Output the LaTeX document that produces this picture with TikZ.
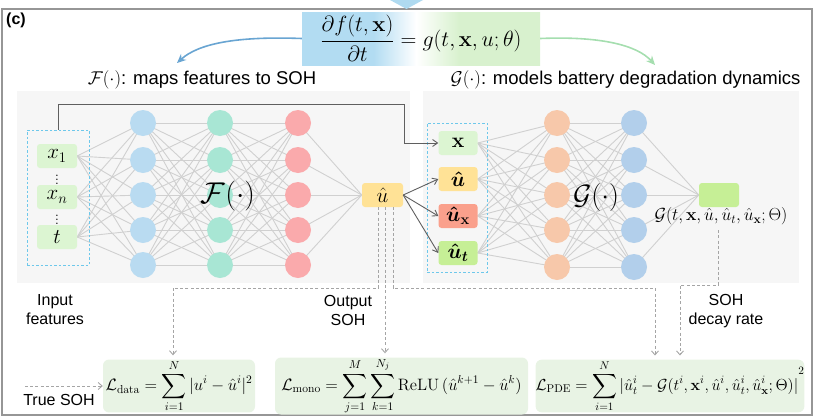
\RequirePackage{fix-cm}
\documentclass[tikz,border=0pt]{standalone}
\usepackage{amsmath}
\usepackage[no-math]{fontspec}
\newfontfamily\arialf{Liberation Sans}
\usetikzlibrary{arrows.meta,calc}
\definecolor{framegray}{RGB}{150,150,150}
\definecolor{panelgray}{RGB}{246,246,246}
\definecolor{edgegray}{RGB}{208,208,208}
\definecolor{dashgray}{RGB}{165,165,165}
\definecolor{arrgray}{RGB}{95,95,95}
\definecolor{tricolor}{RGB}{175,218,240}
\definecolor{eqblue}{RGB}{178,220,242}
\definecolor{eqgreen}{RGB}{216,241,206}
\definecolor{arrblue}{RGB}{105,165,210}
\definecolor{arrgreen}{RGB}{165,222,175}
\definecolor{nblue}{RGB}{185,219,241}
\definecolor{nteal}{RGB}{168,230,212}
\definecolor{npink}{RGB}{250,170,172}
\definecolor{norange}{RGB}{247,200,170}
\definecolor{nblueb}{RGB}{178,207,235}
\definecolor{ingreen}{RGB}{220,245,210}
\definecolor{nyellow}{RGB}{255,226,150}
\definecolor{nsalmon}{RGB}{250,160,140}
\definecolor{ngreen}{RGB}{198,239,150}
\definecolor{lossfill}{RGB}{232,243,228}
\definecolor{boxblue}{RGB}{110,200,235}
\pgfdeclarehorizontalshading{eqshade}{100bp}{color(0bp)=(eqblue); color(25bp)=(eqblue); color(40bp)=(eqblue); color(49bp)=(white); color(58bp)=(eqgreen); color(75bp)=(eqgreen); color(100bp)=(eqgreen)}
\pgfdeclarelayer{bg}
\pgfdeclarelayer{edges}
\pgfsetlayers{bg,edges,main}
\begin{document}
\begin{tikzpicture}[x=1pt,y=-1pt,
  neuron/.style={circle,minimum size=26pt,inner sep=0pt,draw=none},
  feat/.style={rounded corners=3pt,minimum width=40pt,minimum height=24pt,inner sep=0pt,font=\fontsize{21}{23}\selectfont},
  edge/.style={draw=edgegray,line width=0.9pt},
  dline/.style={draw=dashgray,dashed,dash pattern=on 3pt off 2.2pt,line width=0.9pt,-{Straight Barb[length=4pt,width=7pt]}},
  feedarrow/.style={draw=arrgray,line width=0.9pt,-{Straight Barb[length=5pt,width=7pt]}},
  dashbox/.style={draw=boxblue,dashed,dash pattern=on 2.5pt off 2pt,line width=0.8pt},
  lossbox/.style={fill=lossfill,rounded corners=6pt,minimum height=48pt,inner sep=0pt,font=\fontsize{16.5}{19}\selectfont},
  lbl/.style={font=\arialf\fontsize{16}{19}\selectfont,align=center},
  ttl/.style={font=\arialf\fontsize{18.5}{21}\selectfont}
]
\useasboundingbox (0,0) rectangle (816,418);
% frame and top arrow
\draw[framegray,line width=1.2pt] (2,9) rectangle (812,415);
\fill[tricolor] (390,0) -- (423,0) -- (406.5,9) -- cycle;
\node[font=\arialf\bfseries\fontsize{16}{18}\selectfont] (clabel) at (16,20) {(c)};
% equation
\node[shading=eqshade,minimum width=238pt,minimum height=53pt,inner sep=0pt,font=\fontsize{22}{25}\selectfont] (eq) at (421,38.5)
  {$\displaystyle\frac{\partial f(t,\mathbf{x})}{\partial t}=g(t,\mathbf{x},u;\theta)$};
\coordinate (fa) at (177,63);
\coordinate (ga) at (655,65);
\draw[arrblue,line width=1.6pt,-{Stealth[length=9pt,width=8pt]}] (eq.west) .. controls (235,36) and (198,44) .. (fa);
\draw[arrgreen,line width=1.6pt,-{Stealth[length=9pt,width=8pt]}] (eq.east) .. controls (600,36) and (637,45) .. (ga);
\node[ttl] (ftitle) at (202,80) {$\mathcal{F}(\cdot)$: maps features to SOH};
\node[ttl,anchor=east] (gtitle) at (804,80) {$\mathcal{G}(\cdot)$: models battery degradation dynamics};
% panels
\begin{pgfonlayer}{bg}
\fill[panelgray] (17,91) rectangle (410,283);
\fill[panelgray] (423,91) rectangle (799,283);
\end{pgfonlayer}
% left network
\node[dashbox,minimum width=62pt,minimum height=135pt,inner sep=0pt] (inbox) at (58,197.5) {};
\node[feat,fill=ingreen] (in1) at (57,156) {$x_1$};
\node[feat,fill=ingreen] (in2) at (57,197) {$x_n$};
\node[feat,fill=ingreen] (in3) at (57,237) {$t$};
\node[font=\fontsize{17}{19}\selectfont] (dots1) at (57,177) {$\vdots$};
\node[font=\fontsize{17}{19}\selectfont] (dots2) at (57,217) {$\vdots$};
\foreach \j/\yy in {1/123,2/160,3/195,4/230,5/265}{
  \node[neuron,fill=nblue] (a\j) at (143,\yy) {};
  \node[neuron,fill=nteal] (b\j) at (220,\yy) {};
  \node[neuron,fill=npink] (c\j) at (298,\yy) {};
}
\node[feat,fill=nyellow,minimum width=41pt] (uh) at (382.5,195) {$\hat{u}$};
\node[font=\fontsize{30}{33}\selectfont] (flabel) at (228,196) {$\mathcal{F}(\cdot)$};
% right network
\node[dashbox,minimum width=60pt,minimum height=149pt,inner sep=0pt] (rbox) at (457,197.5) {};
\node[feat,fill=ingreen,minimum width=39pt] (rx) at (458,143) {$\mathbf{x}$};
\node[feat,fill=nyellow,minimum width=39pt] (ru) at (458,179) {$\boldsymbol{\hat{u}}$};
\node[feat,fill=nsalmon,minimum width=39pt] (rux) at (458,216) {$\boldsymbol{\hat{u}}_{\mathbf{x}}$};
\node[feat,fill=ngreen,minimum width=39pt] (rut) at (458,253) {$\boldsymbol{\hat{u}}_{\boldsymbol{t}}$};
\foreach \j/\yy in {1/123,2/160,3/195,4/230,5/267}{
  \node[neuron,fill=norange] (d\j) at (557,\yy) {};
  \node[neuron,fill=nblueb] (e\j) at (634,\yy) {};
}
\node[fill=ngreen,rounded corners=3pt,minimum width=40pt,minimum height=24pt,inner sep=0pt] (gout) at (719,195) {};
\node[font=\fontsize{28}{31}\selectfont] (glabel2) at (596,197) {$\mathcal{G}(\cdot)$};
\node[font=\fontsize{17.5}{20}\selectfont] (glabel) at (721,216) {$\mathcal{G}(t,\mathbf{x},\hat{u},\hat{u}_t,\hat{u}_{\mathbf{x}};\Theta)$};
% edges
\begin{pgfonlayer}{edges}
\foreach \i in {1,2,3}{\foreach \j in {1,...,5}{\draw[edge] (in\i.east) -- (a\j.center);}}
\foreach \i in {1,...,5}{\foreach \j in {1,...,5}{
  \draw[edge] (a\i.center) -- (b\j.center);
  \draw[edge] (b\i.center) -- (c\j.center);
  \draw[edge] (d\i.center) -- (e\j.center);}}
\foreach \i in {1,...,5}{\draw[edge] (c\i.center) -- (uh.west);}
\foreach \n in {rx,ru,rux,rut}{\foreach \j in {1,...,5}{\draw[edge] (\n.east) -- (d\j.center);}}
\foreach \i in {1,...,5}{\draw[edge] (e\i.center) -- (gout.west);}
\end{pgfonlayer}
% feedback and u-hat arrows
\coordinate (fb) at (404,104);
\draw[feedarrow] (inbox.north) |- (fb) |- (rx.west);
\draw[feedarrow] (uh.east) -- (ru.west);
\draw[feedarrow] (uh.east) -- (rux.west);
\draw[feedarrow] (uh.east) -- (rut.west);
% labels
\node[lbl] (linput) at (55,310) {Input\\features};
\node[lbl] (loutput) at (348,310) {Output\\SOH};
\node[lbl] (ldecay) at (726,311) {SOH\\decay rate};
\node[lbl] (ltrue) at (59,400) {True SOH};
% loss boxes
\node[lossbox,minimum width=152pt] (ldata) at (179,386)
  {$\mathcal{L}_{\mathrm{data}}=\displaystyle\sum_{i=1}^{N}|u^{i}-\hat{u}^{i}|^{2}$};
\node[lossbox,minimum width=253pt] (lmono) at (401.5,386)
  {$\mathcal{L}_{\mathrm{mono}}=\displaystyle\sum_{j=1}^{M}\sum_{k=1}^{N_j}\mathrm{ReLU}\,(\hat{u}^{k+1}-\hat{u}^{k})$};
\node[lossbox,minimum width=266pt,font=\fontsize{16}{19}\selectfont] (lpde) at (670,386)
  {$\mathcal{L}_{\mathrm{PDE}}=\displaystyle\sum_{i=1}^{N}|\hat{u}_t^{i}-\mathcal{G}(t^{i},\mathbf{x}^{i},\hat{u}^{i},\hat{u}_t^{i},\hat{u}_{\mathbf{x}}^{i};\Theta)|^{\raisebox{9pt}{$\scriptstyle 2$}}$};
% dashed connectors
\coordinate (d1) at (173,288);
\coordinate (d2) at (655,288);
\coordinate (d3) at (680,285);
\draw[dline] ([xshift=-4.5pt]uh.south) |- (d1) -- ([yshift=4pt]d1 |- ldata.north);
\draw[dline] ([xshift=2.5pt]uh.south) -- ([xshift=2.5pt,yshift=4pt]uh.south |- lmono.north);
\draw[dline] ([xshift=10.5pt]uh.south) |- (d2) -- ([yshift=4pt]d2 |- lpde.north);
\draw[dline] ([xshift=-3pt,yshift=-2pt]glabel.south) |- (d3) -- ([yshift=4pt]d3 |- lpde.north);
\coordinate (ts) at (25,386);
\draw[dline] (ts) -- (ldata.west);
\end{tikzpicture}
\end{document}
